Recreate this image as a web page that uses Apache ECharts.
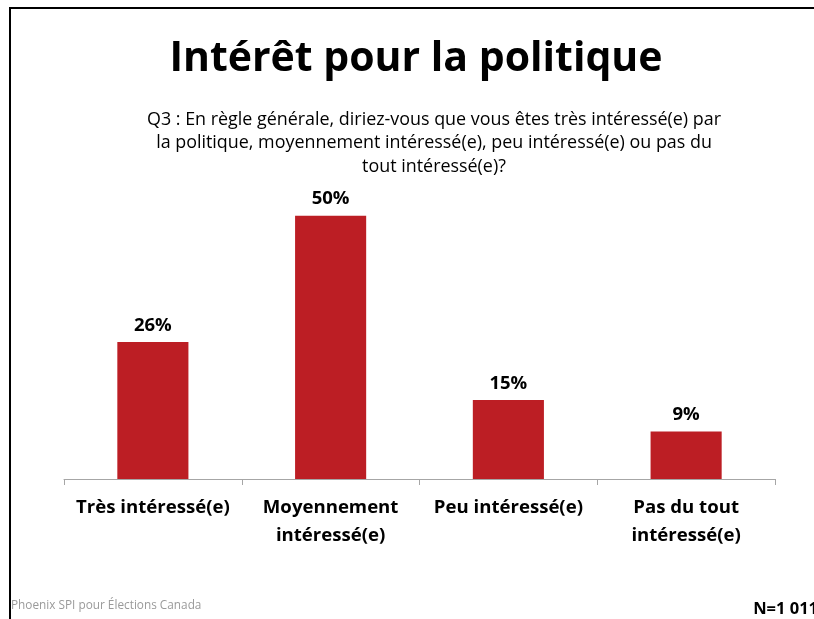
<!DOCTYPE html>
<html>
<head>
<meta charset="utf-8">
<script src="https://cdn.jsdelivr.net/npm/echarts@6/dist/echarts.min.js"></script>
<style>
  html, body { margin: 0; padding: 0; background: #fff; }
  #chart { width: 814px; height: 619px; }
</style>
</head>
<body>
<div id="chart"></div>
<script>
// Survey answers: level of interest in politics
const categories = ['Très intéressé(e)', 'Moyennement\nintéressé(e)', 'Peu intéressé(e)', 'Pas du tout\nintéressé(e)'];
const shares = [26, 50, 15, 9];

const titleText = 'Intérêt pour la politique';
const questionLines = [
  'Q3 : En règle générale, diriez-vous que vous êtes très intéressé(e) par',
  'la politique, moyennement intéressé(e), peu intéressé(e) ou pas du',
  'tout intéressé(e)?'
];
const sourceText = 'Phoenix SPI pour Élections Canada';
const sampleText = 'N=1 011';

const FONT = '"Open Sans", Lato, sans-serif';
const RED = '#BC1E24';

const chart = echarts.init(document.getElementById('chart'), null, { renderer: 'canvas' });

chart.setOption({
  backgroundColor: '#ffffff',
  animation: false,
  grid: { left: 64, right: 39, top: 163, bottom: 140 },
  xAxis: {
    type: 'category',
    data: categories,
    axisLine: { lineStyle: { color: '#A6A6A6', width: 1 } },
    axisTick: { show: true, length: 6, lineStyle: { color: '#A6A6A6' } },
    axisLabel: {
      interval: 0,
      margin: 15,
      color: '#000',
      fontFamily: FONT,
      fontWeight: 'bold',
      fontSize: 18.6,
      lineHeight: 28,
      align: 'center'
    }
  },
  yAxis: {
    type: 'value',
    min: 0,
    max: 60,
    show: false,
    splitLine: { show: false }
  },
  series: [{
    type: 'bar',
    data: shares,
    barWidth: '40%',
    itemStyle: { color: RED },
    label: {
      show: true,
      position: 'top',
      distance: 7,
      formatter: p => p.value + '%',
      color: '#000',
      fontFamily: FONT,
      fontWeight: 'bold',
      fontSize: 18.5
    }
  }],
  graphic: [
    // frame lines along the top and left edges
    { type: 'line', shape: { x1: 9, y1: 8, x2: 814, y2: 8 }, style: { stroke: '#000', lineWidth: 2 } },
    { type: 'line', shape: { x1: 10, y1: 7, x2: 10, y2: 619 }, style: { stroke: '#000', lineWidth: 2 } },
    {
      type: 'text',
      style: {
        text: titleText, x: 416, y: 59,
        align: 'center', verticalAlign: 'middle',
        font: 'bold 41px ' + FONT, fill: '#000'
      }
    },
    {
      type: 'text',
      style: {
        text: questionLines.join('\n'), x: 434, y: 108,
        align: 'center', verticalAlign: 'top',
        font: '17.9px ' + FONT, lineHeight: 23.5, fill: '#000'
      }
    },
    {
      type: 'text',
      style: {
        text: sourceText, x: 11, y: 606,
        align: 'left', verticalAlign: 'middle',
        font: '11.8px ' + FONT, fill: '#9A9A9A'
      }
    },
    {
      type: 'text',
      style: {
        text: sampleText, x: 818, y: 609,
        align: 'right', verticalAlign: 'middle',
        font: 'bold 16.5px ' + FONT, fill: '#000'
      }
    }
  ]
});
</script>
</body>
</html>
